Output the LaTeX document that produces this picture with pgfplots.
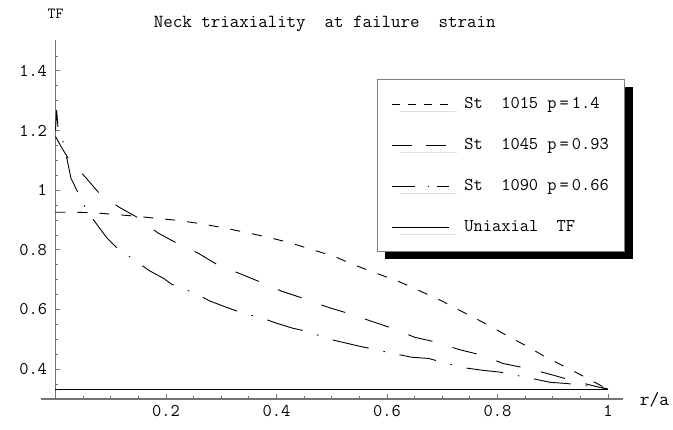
\documentclass[border=0pt]{standalone}
\usepackage{pgfplots}
\pgfplotsset{compat=1.18}
\usepackage{fontspec}
\usetikzlibrary{shadows}

\begin{document}
\begin{tikzpicture}
\begin{axis}[
  x=552.5bp, y=298.3bp,
  xmin=-0.026, xmax=1.027, ymin=0.3, ymax=1.503,
  axis x line=bottom, axis y line=middle,
  axis line style={-, draw=black!55, line width=1.3bp},
  every tick/.style={draw=black!55, line width=0.8bp},
  tick align=inside,
  major tick length=5bp, minor tick length=3bp,
  xtick={0.2,0.4,0.6,0.8,1},
  ytick={0.4,0.6,0.8,1,1.2,1.4},
  minor xtick={0.05,0.1,0.15,0.25,0.3,0.35,0.45,0.5,0.55,0.65,0.7,0.75,0.85,0.9,0.95},
  minor ytick={0.35,0.45,0.5,0.55,0.65,0.7,0.75,0.85,0.9,0.95,1.05,1.1,1.15,1.25,1.3,1.35,1.45},
  tick label style={font=\ttfamily\fontsize{18}{20}\selectfont},
  /pgf/number format/assume math mode=true,
  yticklabel style={xshift=-5bp},
  xticklabel style={yshift=-3bp},
  clip=false,
  title={Neck triaxiality\ \ at failure\ \ strain},
  every axis title/.style={at={(axis description cs:0.4995,1.0361)}, anchor=base, xshift=-7bp, inner sep=0pt, font=\ttfamily\fontsize{18.5}{20}\selectfont},
  xlabel={r/a},
  every axis x label/.style={at={(axis description cs:1.0286,-0.0173)}, anchor=base west, inner sep=0pt, font=\ttfamily\fontsize{19}{20}\selectfont},
  ylabel={TF},
  every axis y label/.style={at={(axis description cs:0.0247,1.0725)}, anchor=center, inner sep=0pt, font=\ttfamily\fontsize{15.5}{16}\selectfont},
  legend style={
    at={(axis cs:0.582,1.3725)}, anchor=north west,
    draw=black!50, line width=0.8bp, fill=white,
    drop shadow={shadow xshift=8bp, shadow yshift=-8bp, fill=black, draw=none, opacity=1},
    inner xsep=14bp, inner ysep=15bp,
    row sep=22bp, column sep=13bp,
    nodes={inner sep=2bp, text height=12bp, text depth=3bp, font=\ttfamily\fontsize{18}{20}\selectfont},
  },
  legend cell align=left,
]
\addplot[black, line width=0.9bp, dash pattern=on 10bp off 12bp,
  legend image code/.code={\draw[black, line width=0.9bp, dash pattern=on 8bp off 8bp] (0bp,0bp) -- (57bp,0bp);}]
coordinates {(0,0.926) (0.03,0.926) (0.06,0.925) (0.086,0.922) (0.138,0.914) (0.176,0.907) (0.22,0.899) (0.262,0.888) (0.301,0.875) (0.343,0.859) (0.383,0.843) (0.424,0.824) (0.466,0.8) (0.506,0.777) (0.537,0.752) (0.58,0.722) (0.62,0.695) (0.66,0.662) (0.70,0.628) (0.737,0.592) (0.775,0.556) (0.81,0.52) (0.85,0.48) (0.885,0.443) (0.92,0.41) (0.96,0.372) (0.99,0.342) (1,0.3333)};
\addlegendentry{St\ \ 1015 p\hspace{3bp}=\hspace{3bp}1.4}

\addplot[black, line width=0.9bp, dash pattern=on 25bp off 21bp,
  legend image code/.code={\draw[black, line width=0.9bp, dash pattern=on 20bp off 14bp] (0bp,0bp) -- (57bp,0bp);}]
coordinates {(0,1.18) (0.012,1.14) (0.024,1.104) (0.053,1.046) (0.079,0.99) (0.115,0.943) (0.147,0.91) (0.186,0.856) (0.22,0.822) (0.258,0.789) (0.295,0.748) (0.337,0.718) (0.376,0.688) (0.41,0.661) (0.454,0.634) (0.494,0.607) (0.53,0.587) (0.573,0.56) (0.61,0.537) (0.65,0.507) (0.69,0.49) (0.73,0.466) (0.774,0.446) (0.81,0.419) (0.853,0.403) (0.895,0.383) (0.935,0.362) (0.985,0.339) (1,0.3333)};
\addlegendentry{St\ \ 1045 p\hspace{3bp}=\hspace{3bp}0.93}

\addplot[black, line width=0.9bp, dash pattern=on 37bp off 15bp on 1.5bp off 15bp,
  legend image code/.code={\draw[black, line width=0.9bp, dash pattern=on 23bp off 13bp on 1.5bp off 8bp on 12bp off 2bp] (0bp,0bp) -- (57bp,0bp);}]
coordinates {(0,1.2) (0.002,1.268) (0.005,1.2) (0.015,1.157) (0.028,1.04) (0.057,0.93) (0.077,0.88) (0.093,0.84) (0.115,0.80) (0.14,0.77) (0.17,0.73) (0.195,0.705) (0.21,0.685) (0.253,0.654) (0.28,0.628) (0.31,0.607) (0.34,0.587) (0.37,0.574) (0.4,0.554) (0.43,0.537) (0.46,0.525) (0.49,0.503) (0.52,0.49) (0.55,0.477) (0.61,0.453) (0.645,0.44) (0.675,0.436) (0.735,0.406) (0.77,0.397) (0.805,0.39) (0.862,0.369) (0.895,0.356) (0.925,0.352) (0.985,0.339) (1,0.3333)};
\addlegendentry{St\ \ 1090 p\hspace{3bp}=\hspace{3bp}0.66}

\addplot[black, line width=0.9bp,
  legend image code/.code={\draw[black, line width=0.9bp] (0bp,0bp) -- (57bp,0bp);}]
coordinates {(0,0.3333) (1,0.3333)};
\addlegendentry{Uniaxial\ \ TF}

\coordinate (bl) at (axis cs:-0.10045,0.1983);
\coordinate (tr) at (axis cs:1.11765,1.6376);
\end{axis}
\pgfresetboundingbox
\useasboundingbox (bl) rectangle (tr);
\end{tikzpicture}
\end{document}
